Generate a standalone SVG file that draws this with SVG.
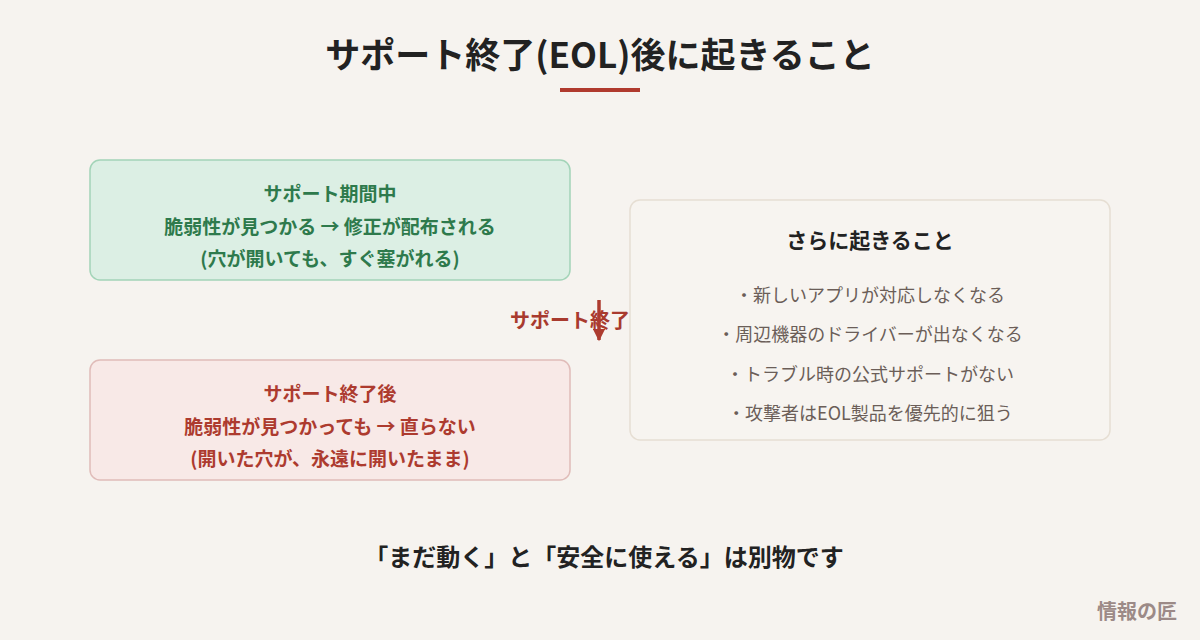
<svg xmlns="http://www.w3.org/2000/svg" width="1200" height="640" viewBox="0 0 1200 640">
  <defs>
    <style>
      text { font-family: "Noto Sans CJK JP", "Noto Sans", sans-serif; text-anchor: middle; }
      .title { font-size: 35px; font-weight: 700; fill: #222222; }
      .g { font-size: 19px; font-weight: 700; fill: #2e7a4c; }
      .r { font-size: 19px; font-weight: 700; fill: #ad3b2f; }
      .rh { font-size: 21px; font-weight: 700; fill: #222222; }
      .item { font-size: 18px; font-weight: 400; fill: #6b5e58; }
      .foot { font-size: 24px; font-weight: 700; fill: #222222; }
      .brand { font-size: 20px; font-weight: 700; fill: #9c8a87; text-anchor: end; }
      .lbl { font-size: 20px; font-weight: 700; fill: #a83a2e; }
    </style>
    <marker id="ah" viewBox="0 0 10 10" refX="9" refY="5" markerWidth="4.5" markerHeight="3.5" orient="auto" markerUnits="strokeWidth">
      <path d="M0,0 L10,5 L0,10 z" fill="#ad3b2f"/>
    </marker>
  </defs>
  <rect x="0" y="0" width="1200" height="640" fill="#f6f3ef"/>

  <g id="title">
    <text class="title" x="600" y="68">サポート終了(EOL)後に起きること</text>
    <rect x="560" y="88" width="80" height="4" fill="#b03a2e"/>
  </g>

  <g id="during">
    <rect x="90" y="160" width="480" height="120" rx="10" fill="#dcefe4" stroke="#a3d4b8" stroke-width="1.5"/>
    <text class="g" x="330" y="201">サポート期間中</text>
    <text class="g" x="330" y="234">脆弱性が見つかる → 修正が配布される</text>
    <text class="g" x="330" y="266">(穴が開いても、すぐ塞がれる)</text>
  </g>

  <g id="after">
    <rect x="90" y="360" width="480" height="120" rx="10" fill="#f8e9e7" stroke="#e0bcb9" stroke-width="1.5"/>
    <text class="r" x="330" y="401">サポート終了後</text>
    <text class="r" x="330" y="434">脆弱性が見つかっても → 直らない</text>
    <text class="r" x="330" y="466">(開いた穴が、永遠に開いたまま)</text>
  </g>

  <g id="more">
    <rect x="630" y="200" width="480" height="240" rx="10" fill="#f7f4f0" stroke="#e6ded3" stroke-width="1.5"/>
    <text class="rh" x="870" y="248">さらに起きること</text>
    <text class="item" x="870" y="302">・新しいアプリが対応しなくなる</text>
    <text class="item" x="870" y="341">・周辺機器のドライバーが出なくなる</text>
    <text class="item" x="870" y="381">・トラブル時の公式サポートがない</text>
    <text class="item" x="870" y="420">・攻撃者はEOL製品を優先的に狙う</text>
  </g>

  <g id="connectors">
    <text class="lbl" x="570" y="328">サポート終了</text>
    <line x1="599" y1="300" x2="599" y2="340" stroke="#ad3b2f" stroke-width="3.5" marker-end="url(#ah)"/>
  </g>

  <g id="footer">
    <text class="foot" x="604" y="566">「まだ動く」と「安全に使える」は別物です</text>
    <text class="brand" x="1177" y="619">情報の匠</text>
  </g>
</svg>
